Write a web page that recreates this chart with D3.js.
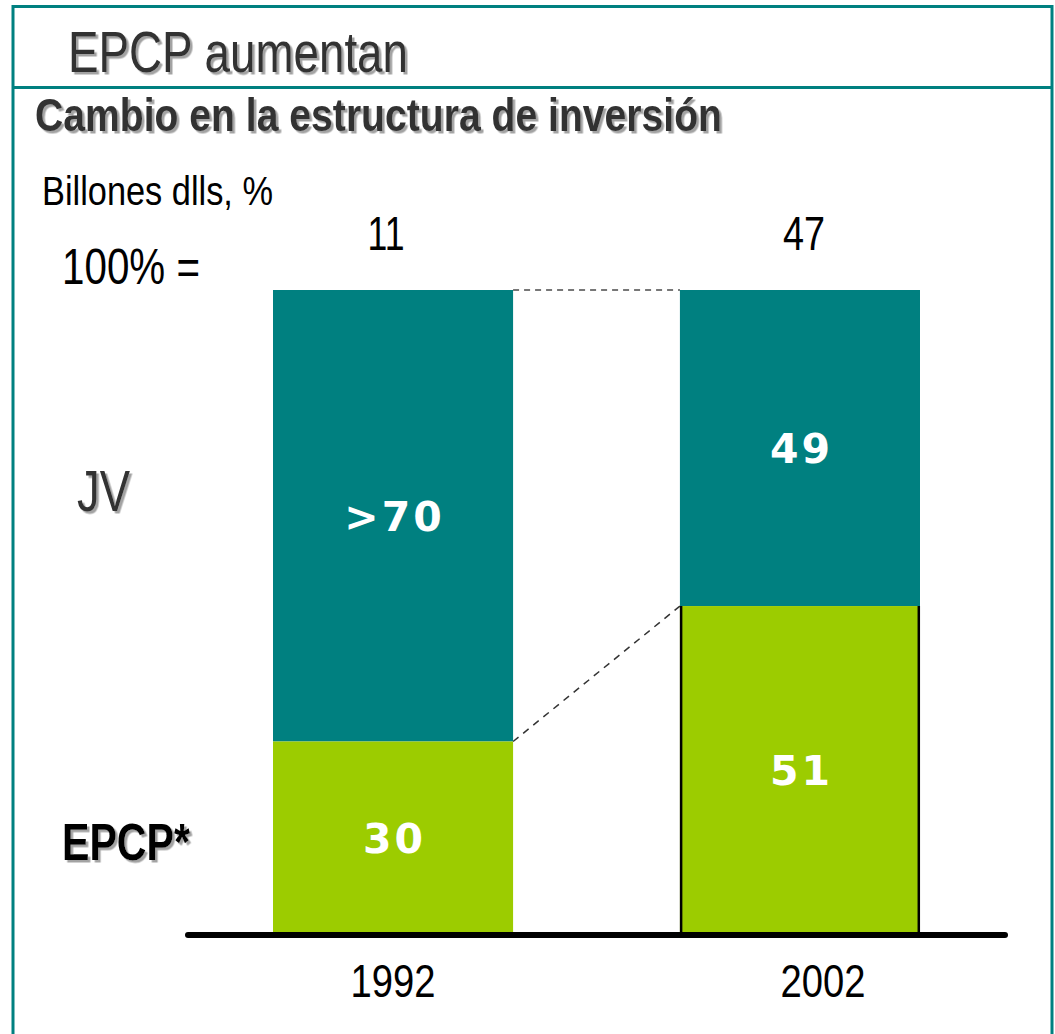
<!DOCTYPE html>
<html lang="es">
<head>
<meta charset="UTF-8">
<script src="https://d3js.org/d3.v7.min.js"></script>
<title>EPCP aumentan</title>
<style>
    body { margin: 0; background: #fff; }
    .narrow { font-family: "Liberation Sans", Arial, sans-serif; }
    .seg-label { font-family: "DejaVu Sans", Verdana, sans-serif; font-weight: bold; fill: #fff; letter-spacing: 3px; }
</style>
</head>
<body>
<div id="chart"></div>
<script>
    // data
    const years = ["1992", "2002"];
    const totals = [11, 47];          // billones dlls (100% =)
    const epcp = [30, 51];            // % EPCP*
    const jv = [70, 49];              // % JV
    const epcpLabels = ["30", "51"];
    const jvLabels = [">70", "49"];

    const W = 1055, H = 1034;
    const teal = "#008080", green = "#9ccc00";

    const svg = d3.select("#chart").append("svg")
        .attr("width", W)
        .attr("height", H);

    // the original uses a condensed face, squeeze Arial-metric text to its width
    function fit(sel, w) {
        sel.attr("textLength", w).attr("lengthAdjust", "spacingAndGlyphs");
        return sel;
    }

    // drop shadow for the headings
    const defs = svg.append("defs");
    defs.append("filter").attr("id", "shadow")
        .attr("x", "-5%").attr("y", "-10%").attr("width", "115%").attr("height", "130%")
        .append("feDropShadow")
        .attr("dx", 2.5).attr("dy", 2.5).attr("stdDeviation", 0.6)
        .attr("flood-color", "#999").attr("flood-opacity", 0.9);

    // frame
    svg.append("rect")
        .attr("x", 13).attr("y", 6.5)
        .attr("width", 1039).attr("height", 1100)
        .attr("fill", "none").attr("stroke", teal).attr("stroke-width", 3);
    svg.append("line")
        .attr("x1", 13).attr("x2", 1052).attr("y1", 87.5).attr("y2", 87.5)
        .attr("stroke", teal).attr("stroke-width", 3);

    // headings
    fit(svg.append("text").attr("class", "narrow")
        .attr("x", 68).attr("y", 72)
        .attr("font-size", 57).attr("fill", "#333")
        .attr("filter", "url(#shadow)")
        .text("EPCP aumentan"), 340);

    fit(svg.append("text").attr("class", "narrow")
        .attr("x", 35).attr("y", 131)
        .attr("font-size", 47).attr("font-weight", "bold").attr("fill", "#333")
        .attr("filter", "url(#shadow)")
        .text("Cambio en la estructura de inversión"), 687);

    fit(svg.append("text").attr("class", "narrow")
        .attr("x", 42).attr("y", 205)
        .attr("font-size", 41).attr("fill", "#000")
        .text("Billones dlls, %"), 231);

    fit(svg.append("text").attr("class", "narrow")
        .attr("x", 62).attr("y", 284)
        .attr("font-size", 50).attr("fill", "#000")
        .text("100% ="), 138);

    // scales
    const x = d3.scaleBand()
        .domain(years)
        .range([273, 920])
        .paddingInner(0.41)
        .paddingOuter(0);

    const y = d3.scaleLinear()
        .domain([0, 100])
        .range([935, 290]);

    const bw = x.bandwidth();

    // connectors
    svg.append("line")
        .attr("x1", x(years[0]) + bw).attr("x2", x(years[1]))
        .attr("y1", y(100)).attr("y2", y(100))
        .attr("stroke", "#777").attr("stroke-width", 2)
        .attr("stroke-dasharray", "6,5");
    svg.append("line")
        .attr("x1", x(years[0]) + bw).attr("x2", x(years[1]))
        .attr("y1", y(epcp[0])).attr("y2", y(epcp[1]))
        .attr("stroke", "#333").attr("stroke-width", 1.5)
        .attr("stroke-dasharray", "7,6");

    // bars
    const rows = years.map((yr, i) => ({
        year: yr, total: totals[i], epcp: epcp[i], jv: jv[i],
        epcpLabel: epcpLabels[i], jvLabel: jvLabels[i]
    }));

    const g = svg.selectAll(".bar")
        .data(rows)
        .enter().append("g")
        .attr("class", "bar");

    g.append("rect")
        .attr("x", d => x(d.year))
        .attr("width", bw)
        .attr("y", d => y(d.epcp + d.jv))
        .attr("height", d => y(d.epcp) - y(d.epcp + d.jv))
        .attr("fill", teal);

    g.append("rect")
        .attr("x", d => x(d.year))
        .attr("width", bw)
        .attr("y", d => y(d.epcp))
        .attr("height", d => y(0) - y(d.epcp))
        .attr("fill", green);

    // black side edges on the 2002 EPCP segment
    const last = rows[1];
    [x(last.year) + 1.2, x(last.year) + bw - 1.2].forEach(xx => {
        svg.append("line")
            .attr("x1", xx).attr("x2", xx)
            .attr("y1", y(last.epcp)).attr("y2", y(0))
            .attr("stroke", "#000").attr("stroke-width", 2.5);
    });

    // segment labels
    g.append("text").attr("class", "seg-label")
        .attr("x", d => x(d.year) + bw / 2 + 1.5)
        .attr("y", d => (y(d.epcp + d.jv) + y(d.epcp)) / 2)
        .attr("dy", "0.36em")
        .attr("text-anchor", "middle")
        .attr("font-size", 41)
        .text(d => d.jvLabel);

    g.append("text").attr("class", "seg-label")
        .attr("x", d => x(d.year) + bw / 2 + 1.5)
        .attr("y", d => (y(d.epcp) + y(0)) / 2)
        .attr("dy", "0.36em")
        .attr("text-anchor", "middle")
        .attr("font-size", 41)
        .text(d => d.epcpLabel);

    // totals above bars
    g.append("text").attr("class", "narrow")
        .attr("x", (d, i) => x(d.year) + bw / 2 + (i === 0 ? -7 : 4))
        .attr("y", 250)
        .attr("text-anchor", "middle")
        .attr("font-size", 48)
        .attr("fill", "#000")
        .attr("textLength", (d, i) => i === 0 ? 37 : 42)
        .attr("lengthAdjust", "spacingAndGlyphs")
        .text(d => d.total);

    // baseline
    svg.append("line")
        .attr("x1", 188).attr("x2", 1005)
        .attr("y1", y(0)).attr("y2", y(0))
        .attr("stroke", "#000").attr("stroke-width", 6)
        .attr("stroke-linecap", "round");

    // year axis
    const axis = svg.append("g")
        .attr("transform", `translate(0,${y(0)})`)
        .call(d3.axisBottom(x).tickSize(0).tickPadding(29));
    axis.select(".domain").remove();
    axis.attr("font-family", null).attr("font-size", null);
    fit(axis.selectAll("text")
        .attr("class", "narrow")
        .attr("font-size", 47)
        .attr("fill", "#000")
        .attr("dx", (d, i) => i === 0 ? 0 : 23), 85);

    // series labels
    fit(svg.append("text").attr("class", "narrow")
        .attr("x", 77).attr("y", 511)
        .attr("font-size", 57).attr("fill", "#333")
        .attr("filter", "url(#shadow)")
        .text("JV"), 53);

    fit(svg.append("text").attr("class", "narrow")
        .attr("x", 62).attr("y", 860)
        .attr("font-size", 52).attr("font-weight", "bold").attr("fill", "#000")
        .attr("filter", "url(#shadow)")
        .text("EPCP*"), 128);
</script>
</body>
</html>
